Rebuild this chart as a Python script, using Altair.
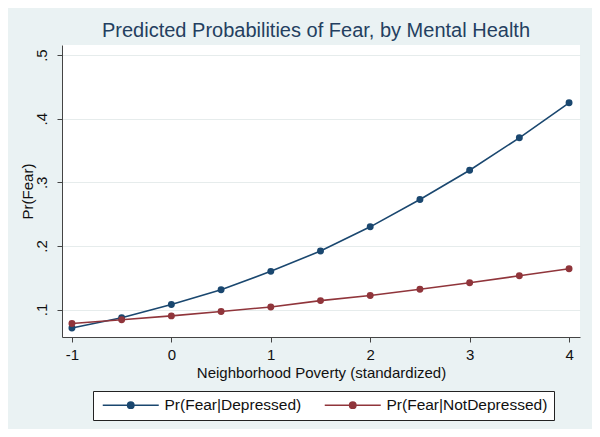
import altair as alt
import pandas as pd

x_vals = [-1, -0.5, 0, 0.5, 1, 1.5, 2, 2.5, 3, 3.5, 4]
depressed = [0.071, 0.087, 0.108, 0.131, 0.160, 0.192, 0.230, 0.273, 0.319, 0.370, 0.425]
not_depressed = [0.078, 0.084, 0.090, 0.097, 0.104, 0.114, 0.122, 0.132, 0.142, 0.153, 0.164]
series_names = ["Pr(Fear|Depressed)", "Pr(Fear|NotDepressed)"]
series_colors = ["#1A476F", "#90353B"]
x_ticks = [-1, 0, 1, 2, 3, 4]
y_ticks = [0.1, 0.2, 0.3, 0.4, 0.5]

rows = []
for xv, d, n in zip(x_vals, depressed, not_depressed):
    rows.append({"x": xv, "p": d, "series": series_names[0]})
    rows.append({"x": xv, "p": n, "series": series_names[1]})
df = pd.DataFrame(rows)

FONT = "Liberation Sans"
sym = ("M-7,0L7,0"
       "M-0.8,0A0.8,0.8,0,1,1,0.8,0A0.8,0.8,0,1,1,-0.8,0"
       "M-0.45,0A0.45,0.45,0,1,1,0.45,0A0.45,0.45,0,1,1,-0.45,0"
       "M-0.15,0A0.15,0.15,0,1,1,0.15,0A0.15,0.15,0,1,1,-0.15,0")

xenc = alt.X("x:Q", scale=alt.Scale(domain=[-1.1, 4.11], nice=False, zero=False),
             axis=alt.Axis(values=x_ticks, title="Neighborhood Poverty (standardized)",
                           grid=False, tickSize=5, labelPadding=5, titlePadding=3,
                           labelExpr="'' + datum.value"))
yenc = alt.Y("p:Q", scale=alt.Scale(domain=[0.0568, 0.5159], nice=False, zero=False),
             axis=alt.Axis(values=y_ticks, title="Pr(Fear)", grid=True, tickSize=5,
                           labelAngle=270, labelAlign="center", labelBaseline="bottom",
                           labelPadding=8, titlePadding=-1,
                           labelExpr="replace(format(datum.value, '.1f'), '0.', '.')"))
color = alt.Color("series:N", scale=alt.Scale(domain=series_names, range=series_colors),
                  legend=alt.Legend(orient="none", legendX=31, legendY=346,
                                    direction="horizontal", title=None,
                                    symbolType=sym, symbolSize=64, symbolOffset=24,
                                    symbolStrokeWidth=1.5, labelOffset=26,
                                    columnPadding=19, padding=6, labelLimit=300,
                                    fillColor="white", strokeColor="#222222",
                                    labelFontSize=15.5, labelFont=FONT, labelColor="#111111"))

line = alt.Chart(df).mark_line(strokeWidth=1.6).encode(x=xenc, y=yenc, color=color)
pts = alt.Chart(df).mark_point(filled=True, size=48, opacity=1).encode(x=xenc, y=yenc, color=color)

chart = (line + pts).properties(
    width=518, height=292,
    padding={"left": 54, "top": 37, "right": 12, "bottom": 92},
    autosize=alt.AutoSizeParams(type="none"),
    background="#EAF2F3",
    title=alt.TitleParams("Predicted Probabilities of Fear, by Mental Health",
                          anchor="middle", frame="group", fontSize=20, font=FONT,
                          fontWeight="normal", color="#243F60", offset=4, dx=-5),
).configure_view(fill="white", stroke=None).configure_axis(
    labelFont=FONT, titleFont=FONT, labelFontSize=15, titleFontSize=15,
    labelColor="#111111", titleColor="#111111", titleFontWeight="normal",
    domainColor="#444444", tickColor="#444444", gridColor="#E6ECEC", domainWidth=1
)

chart.save("out.html", embed_options={"renderer": "svg", "actions": False})
